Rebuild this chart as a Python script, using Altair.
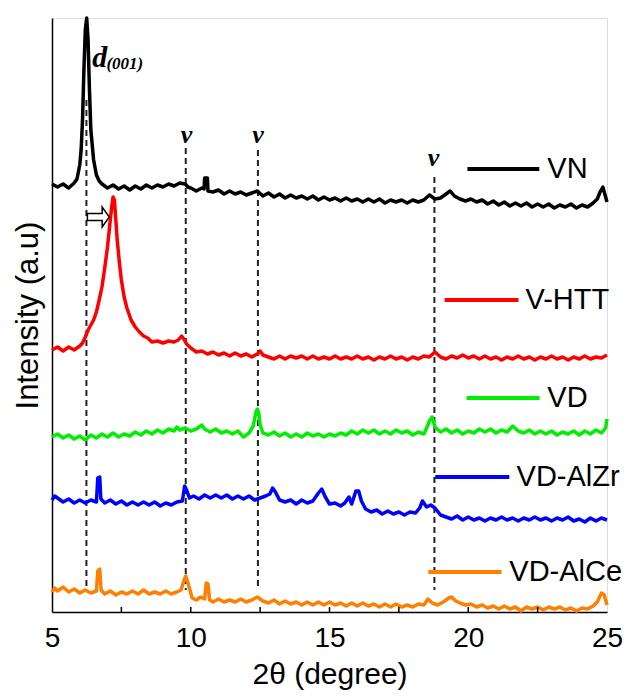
import altair as alt
import pandas as pd

SERIES = ["VN", "V-HTT", "VD", "VD-AlZr", "VD-AlCe"]
COLORS = ["#000000", "#ff0000", "#00ee00", "#0000ff", "#ff8000"]

VN = [(5.0,428),(5.2,425),(5.4,428),(5.6,424),(5.8,429),(5.9,433),(6.0,447),(6.05,462),(6.1,492),(6.15,542),(6.2,582),(6.25,594),(6.3,572),(6.35,522),(6.4,482),(6.5,452),(6.6,437),(6.7,431),(6.8,428),(7.0,424),(7.2,427),(7.4,423),(7.6,426),(7.8,422),(8.0,426),(8.2,423),(8.4,427),(8.6,424),(8.8,427),(9.0,425),(9.2,428),(9.4,426),(9.6,429),(9.8,428),(9.9,425),(10.0,424),(10.2,421),(10.4,424),(10.48,423),(10.5,434),(10.6,434),(10.62,421),(10.8,420),(11.0,422),(11.2,418),(11.4,421),(11.6,418),(11.8,420),(12.0,417),(12.2,419),(12.4,421),(12.6,416),(12.8,419),(13.0,415),(13.2,418),(13.4,414),(13.6,417),(13.8,414),(14.0,416),(14.2,413),(14.4,416),(14.6,412),(14.8,415),(15.0,412),(15.2,414),(15.4,411),(15.6,414),(15.8,411),(16.0,413),(16.2,410),(16.4,413),(16.6,410),(16.8,413),(17.0,409),(17.2,412),(17.4,410),(17.6,412),(17.8,409),(18.0,412),(18.2,410),(18.4,412),(18.6,417),(18.8,413),(19.0,414),(19.2,418),(19.35,421),(19.5,416),(19.7,413),(19.9,411),(20.1,413),(20.3,410),(20.5,412),(20.7,408),(20.9,411),(21.1,407),(21.3,410),(21.5,406),(21.7,409),(21.9,406),(22.1,409),(22.3,405),(22.5,408),(22.7,405),(22.9,408),(23.1,404),(23.3,407),(23.5,405),(23.7,408),(23.9,404),(24.1,407),(24.3,405),(24.5,409),(24.65,413),(24.75,420),(24.85,425),(24.92,418),(25.0,410)]

VHTT = [(5.0,262),(5.2,265),(5.4,261),(5.6,265),(5.8,262),(6.0,266),(6.1,269),(6.2,275),(6.3,282),(6.4,287),(6.5,292),(6.6,300),(6.7,312),(6.8,325),(6.9,344),(7.0,365),(7.1,392),(7.15,405),(7.2,415),(7.25,412),(7.3,392),(7.35,372),(7.43,349),(7.5,332),(7.6,315),(7.7,304),(7.85,292),(8.0,285),(8.15,280),(8.3,276),(8.45,274),(8.6,270),(8.8,271),(9.0,269),(9.2,271),(9.4,270),(9.55,272),(9.67,276),(9.75,273),(9.85,268),(10.0,264),(10.2,260),(10.4,261),(10.6,258),(10.8,260),(11.0,257),(11.2,259),(11.4,256),(11.6,259),(11.8,256),(12.0,258),(12.2,255),(12.4,258),(12.5,261),(12.6,257),(12.8,255),(13.0,253),(13.2,256),(13.4,253),(13.6,256),(13.8,254),(14.0,256),(14.2,253),(14.4,256),(14.6,253),(14.8,255),(15.0,253),(15.2,256),(15.4,253),(15.6,255),(15.8,253),(16.0,256),(16.2,253),(16.4,255),(16.6,252),(16.8,255),(17.0,253),(17.2,256),(17.4,253),(17.6,255),(17.8,252),(18.0,255),(18.2,253),(18.4,256),(18.6,255),(18.8,260),(19.0,255),(19.2,253),(19.4,256),(19.6,254),(19.8,257),(20.0,254),(20.2,256),(20.4,253),(20.6,256),(20.8,253),(21.0,255),(21.2,252),(21.4,255),(21.6,253),(21.8,256),(22.0,253),(22.2,255),(22.4,252),(22.6,255),(22.8,253),(23.0,256),(23.2,253),(23.4,255),(23.6,252),(23.8,255),(24.0,253),(24.2,256),(24.4,253),(24.6,255),(24.8,254),(25.0,257)]

VD = [(5.0,175),(5.2,178),(5.4,174),(5.6,177),(5.8,173),(6.0,176),(6.2,172),(6.4,177),(6.6,174),(6.8,178),(7.0,175),(7.2,179),(7.4,175),(7.6,178),(7.8,176),(8.0,180),(8.2,177),(8.4,181),(8.6,178),(8.8,182),(9.0,179),(9.2,183),(9.4,181),(9.5,185),(9.6,182),(9.8,184),(10.0,181),(10.2,183),(10.4,187),(10.5,183),(10.7,180),(10.9,183),(11.1,179),(11.3,181),(11.5,178),(11.7,181),(11.9,175),(12.1,179),(12.25,186),(12.35,200),(12.4,203),(12.45,199),(12.5,187),(12.6,179),(12.8,177),(13.0,180),(13.2,176),(13.4,179),(13.6,175),(13.8,178),(14.0,175),(14.2,179),(14.4,176),(14.6,178),(14.8,175),(15.0,178),(15.2,176),(15.4,179),(15.6,177),(15.8,181),(16.0,178),(16.2,182),(16.4,179),(16.6,182),(16.8,178),(17.0,181),(17.2,178),(17.4,182),(17.6,179),(17.8,181),(18.0,177),(18.2,180),(18.4,178),(18.5,184),(18.6,191),(18.7,195),(18.8,185),(19.0,180),(19.2,183),(19.4,179),(19.6,182),(19.8,178),(20.0,181),(20.2,179),(20.4,183),(20.6,180),(20.8,183),(21.0,179),(21.2,182),(21.4,180),(21.6,186),(21.8,181),(22.0,179),(22.2,182),(22.4,178),(22.6,181),(22.8,178),(23.0,181),(23.2,177),(23.4,180),(23.6,178),(23.8,181),(24.0,177),(24.2,181),(24.4,178),(24.6,182),(24.8,179),(24.95,184),(25.0,193)]

VDALZR = [(5.0,112),(5.1,116),(5.2,114),(5.4,110),(5.6,113),(5.8,109),(6.0,112),(6.2,109),(6.4,112),(6.6,110),(6.65,134),(6.72,135),(6.76,113),(6.9,109),(7.1,112),(7.3,108),(7.5,111),(7.7,107),(7.9,110),(8.1,107),(8.3,110),(8.5,107),(8.7,110),(8.9,106),(9.1,109),(9.3,107),(9.5,110),(9.7,111),(9.78,126),(9.85,122),(9.95,114),(10.1,116),(10.3,113),(10.5,117),(10.7,114),(10.9,117),(11.1,114),(11.3,117),(11.5,113),(11.7,116),(11.9,113),(12.1,116),(12.3,112),(12.5,114),(12.7,116),(12.85,118),(12.95,124),(13.05,120),(13.2,112),(13.4,110),(13.6,112),(13.8,108),(14.0,112),(14.2,109),(14.4,111),(14.6,119),(14.72,123),(14.85,115),(15.0,108),(15.2,109),(15.4,106),(15.55,109),(15.7,115),(15.8,108),(15.95,121),(16.05,121),(16.15,111),(16.3,103),(16.5,100),(16.7,102),(16.9,98),(17.1,101),(17.3,98),(17.5,100),(17.7,97),(17.9,100),(18.1,99),(18.25,104),(18.35,111),(18.5,105),(18.65,107),(18.8,104),(19.0,97),(19.2,95),(19.4,93),(19.6,96),(19.8,92),(20.0,95),(20.2,92),(20.4,94),(20.6,91),(20.8,94),(21.0,92),(21.2,95),(21.4,92),(21.6,94),(21.8,91),(22.0,94),(22.2,92),(22.4,95),(22.6,92),(22.8,94),(23.0,91),(23.2,94),(23.4,92),(23.6,95),(23.8,91),(24.0,93),(24.2,90),(24.4,94),(24.6,91),(24.8,94),(25.0,92)]

VDALCE = [(5.0,20),(5.1,24),(5.2,21),(5.4,25),(5.6,20),(5.8,23),(6.0,19),(6.2,22),(6.4,19),(6.6,21),(6.65,41),(6.72,43),(6.77,22),(6.9,18),(7.1,21),(7.3,17),(7.5,20),(7.7,18),(7.9,21),(8.1,18),(8.3,22),(8.5,18),(8.7,20),(8.9,18),(9.1,21),(9.3,18),(9.5,20),(9.65,22),(9.75,31),(9.82,36),(9.9,29),(10.05,14),(10.2,12),(10.35,15),(10.5,13),(10.56,29),(10.62,28),(10.68,12),(10.8,10),(11.0,13),(11.2,10),(11.4,12),(11.6,10),(11.8,13),(12.0,10),(12.2,12),(12.4,15),(12.6,11),(12.8,9),(13.0,12),(13.2,8),(13.4,11),(13.6,8),(13.8,10),(14.0,7),(14.2,10),(14.4,7),(14.6,10),(14.8,7),(15.0,10),(15.2,7),(15.4,9),(15.6,6),(15.8,9),(16.0,6),(16.2,9),(16.4,6),(16.6,8),(16.8,5),(17.0,8),(17.2,5),(17.4,8),(17.6,5),(17.8,7),(18.0,5),(18.2,8),(18.4,7),(18.55,13),(18.7,9),(18.9,7),(19.1,10),(19.3,14),(19.4,15),(19.55,11),(19.7,9),(19.9,7),(20.1,8),(20.3,5),(20.5,7),(20.7,4),(20.9,6),(21.1,3),(21.3,6),(21.5,3),(21.7,5),(21.9,1),(22.1,5),(22.3,3),(22.5,5),(22.7,2),(22.9,5),(23.1,3),(23.3,5),(23.5,2),(23.7,4),(23.9,1),(24.1,4),(24.3,3),(24.5,6),(24.65,10),(24.8,19),(24.9,17),(25.0,7)]

# reference lines (2theta) and their vertical extent in intensity units
REF_X = [6.24, 9.82, 12.42, 18.78]
REF_TOP = [512, 464, 462, 435]
REF_BOTTOM = [22, 22, 22, 22]

# in-plot legend entries
LEG_X1 = [19.97, 19.15, 19.94, 18.81, 18.56]
LEG_X2 = [22.56, 21.81, 22.57, 21.48, 21.20]
LEG_Y = [443, 312, 214, 135, 40]
LEG_TX = [22.85, 22.06, 22.85, 21.74, 21.48]

MINOR_TICKS = [7.5, 10, 12.5, 15, 17.5, 20, 22.5]

rows = []
for name, data in zip(SERIES, [VN, VHTT, VD, VDALZR, VDALCE]):
    for i, (x, y) in enumerate(data):
        rows.append({"series": name, "x": x, "y": y, "i": i})
df = pd.DataFrame(rows)

ref_df = pd.DataFrame({"x": REF_X, "y": REF_TOP, "y2": REF_BOTTOM})
leg_df = pd.DataFrame({"series": SERIES, "x": LEG_X1, "x2": LEG_X2, "y": LEG_Y, "tx": LEG_TX})
tick_df = pd.DataFrame({"x": MINOR_TICKS, "y": [0] * len(MINOR_TICKS), "y2": [5] * len(MINOR_TICKS)})
v_df = pd.DataFrame({"x": [9.85, 12.42, 18.75], "y": [469, 469, 446], "t": ["v", "v", "v"]})
d_df = pd.DataFrame({"x": [6.45], "y": [545], "t": ["d"]})
sub_df = pd.DataFrame({"x": [6.96], "y": [543], "t": ["(001)"]})
arrow_df = pd.DataFrame({"x": [6.67], "y": [395]})

xs = alt.Scale(domain=[5, 25], nice=False, zero=False)
ys = alt.Scale(domain=[0, 594], nice=False, zero=False)
xaxis = alt.Axis(values=[5, 10, 15, 20, 25], ticks=False, grid=False, domainColor="black",
                 domainWidth=1.5, labelFontSize=28, labelColor="black", labelFlush=False,
                 labelPadding=12, titleFontSize=30, titleFontWeight="normal", titleColor="black",
                 titlePadding=7, labelFont="Liberation Sans", titleFont="Liberation Sans", format="d")
yaxis = alt.Axis(ticks=False, labels=False, grid=False, domainColor="black", domainWidth=1.5,
                 titleFontSize=31, titleFontWeight="normal", titleColor="black", titlePadding=8,
                 titleFont="Liberation Sans")
cscale = alt.Scale(domain=SERIES, range=COLORS)


def X(f="x"):
    return alt.X(f, type="quantitative", scale=xs, axis=xaxis, title="2θ (degree)")


def Y(f="y"):
    return alt.Y(f, type="quantitative", scale=ys, axis=yaxis, title="Intensity (a.u)")


refs = alt.Chart(ref_df).mark_rule(strokeDash=[6, 4], strokeWidth=2, color="#222").encode(
    x=X(), y=Y(), y2="y2:Q")

lines = alt.Chart(df).mark_line(strokeWidth=3.5, strokeJoin="round").encode(
    x=X(), y=Y(),
    color=alt.Color("series:N", scale=cscale, legend=None),
    order="i:Q")

ticks = alt.Chart(tick_df).mark_rule(strokeWidth=1.5, color="black").encode(
    x=X(), y=Y(), y2="y2:Q")

leg_lines = alt.Chart(leg_df).mark_rule(strokeWidth=4).encode(
    x=X(), x2="x2:Q", y=Y(),
    color=alt.Color("series:N", scale=cscale, legend=None))

leg_text = alt.Chart(leg_df).mark_text(align="left", baseline="middle", fontSize=29,
                                       font="Liberation Sans", color="black").encode(
    x=X("tx"), y=Y(), text="series:N")

v_text = alt.Chart(v_df).mark_text(align="center", baseline="alphabetic", fontSize=26,
                                   font="Liberation Serif", fontStyle="italic",
                                   fontWeight="bold", color="black").encode(
    x=X(), y=Y(), text="t:N")

d_text = alt.Chart(d_df).mark_text(align="left", baseline="alphabetic", fontSize=30,
                                   font="Liberation Serif", fontStyle="italic",
                                   fontWeight="bold", color="black").encode(
    x=X(), y=Y(), text="t:N")

sub_text = alt.Chart(sub_df).mark_text(align="left", baseline="alphabetic", fontSize=17,
                                       font="Liberation Serif", fontStyle="italic",
                                       fontWeight="bold", color="black").encode(
    x=X(), y=Y(), text="t:N")

arrow_path = "M -1 -0.33 L 0.35 -0.33 L 0.35 -0.9 L 1 0 L 0.35 0.9 L 0.35 0.33 L -1 0.33 Z"
arrow = alt.Chart(arrow_df).mark_point(shape=arrow_path, size=480, filled=False,
                                       stroke="black", strokeWidth=1.5, fill="white",
                                       opacity=1).encode(x=X(), y=Y())

chart = alt.layer(refs, lines, ticks, leg_lines, leg_text, v_text, d_text, sub_text, arrow).properties(
    width=555, height=594,
    autosize=alt.AutoSizeParams(type="none"),
    padding={"left": 44, "top": 10, "right": 19, "bottom": 79},
).configure_view(stroke=None).configure(font="Liberation Sans")

chart.save("out.html", embed_options={"renderer": "svg", "actions": False})
